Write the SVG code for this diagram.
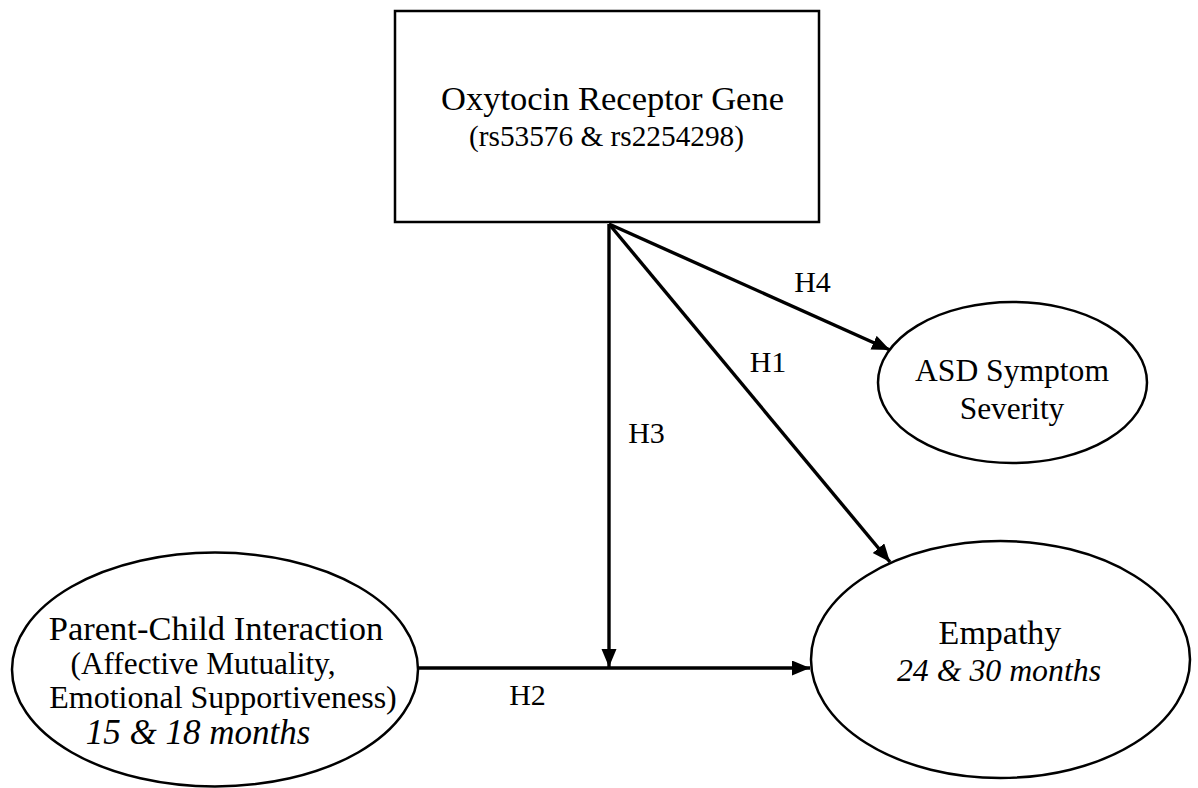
<svg xmlns="http://www.w3.org/2000/svg" width="1198" height="788" viewBox="0 0 1198 788">
<style>
  .shape { fill: #ffffff; stroke: #000000; stroke-width: 2.5; }
  .conn { stroke: #000000; stroke-width: 3.4; fill: none; }
  text { font-family: "Liberation Serif", "Times New Roman", serif; fill: #000000; text-anchor: middle; }
  .it { font-style: italic; }
</style>
<defs>
  <marker id="arrow" markerUnits="userSpaceOnUse" markerWidth="19" markerHeight="16" refX="18" refY="7.5" orient="auto">
    <path d="M0,0 L18,7.5 L0,15 z" fill="#000000"/>
  </marker>
</defs>
<rect width="1198" height="788" fill="#ffffff"/>
<g id="connectors">
  <line class="conn" x1="609" y1="224" x2="609" y2="667" marker-end="url(#arrow)"/>
  <line class="conn" x1="417" y1="668" x2="810" y2="668" marker-end="url(#arrow)"/>
  <line class="conn" x1="609" y1="224" x2="890" y2="562" marker-end="url(#arrow)"/>
  <line class="conn" x1="609" y1="224" x2="890" y2="350" marker-end="url(#arrow)"/>
  <text x="812.5" y="292" font-size="30">H4</text>
  <text x="768" y="372" font-size="30">H1</text>
  <text x="646.5" y="443" font-size="30">H3</text>
  <text x="527.5" y="705" font-size="30">H2</text>
</g>
<g id="gene">
  <rect class="shape" x="395" y="11" width="424" height="211"/>
  <text x="612.5" y="110" font-size="34.5">Oxytocin Receptor Gene</text>
  <text x="606.5" y="146" font-size="29.3">(rs53576 &amp; rs2254298)</text>
</g>
<g id="asd">
  <ellipse class="shape" cx="1012.5" cy="382.5" rx="134.5" ry="80.5"/>
  <text x="1012" y="381" font-size="31.6">ASD Symptom</text>
  <text x="1012" y="419" font-size="31.4">Severity</text>
</g>
<g id="parent-child">
  <ellipse class="shape" cx="215" cy="669.5" rx="203" ry="117"/>
  <text x="216" y="640" font-size="34.5">Parent-Child Interaction</text>
  <text x="203" y="674" font-size="31.3">(Affective Mutuality,</text>
  <text x="223" y="708" font-size="32">Emotional Supportiveness)</text>
  <text class="it" x="198" y="744" font-size="35">15 &amp; 18 months</text>
</g>
<g id="empathy">
  <ellipse class="shape" cx="1000.5" cy="659.5" rx="189.5" ry="118.5"/>
  <text x="1000" y="644" font-size="34">Empathy</text>
  <text class="it" x="999" y="681" font-size="31.8">24 &amp; 30 months</text>
</g>
</svg>
